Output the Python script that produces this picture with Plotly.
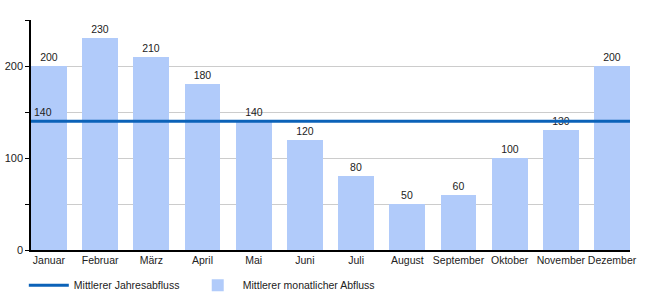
import plotly.graph_objects as go

months = ["Januar", "Februar", "März", "April", "Mai", "Juni", "Juli",
          "August", "September", "Oktober", "November", "Dezember"]
monthly = [200, 230, 210, 180, 140, 120, 80, 50, 60, 100, 130, 200]
annual = 140
y_ticks = [0, 100, 200]

bar_w = 0.7
xs = list(range(len(months)))
x_lo = -bar_w / 2
x_hi = len(months) - 1 + bar_w / 2

font = "Liberation Sans, Arial, sans-serif"

fig = go.Figure()
fig.add_trace(go.Bar(
    x=xs, y=monthly, width=bar_w, marker=dict(color="#b1cbfa", line=dict(width=0)),
    name="Mittlerer monatlicher Abfluss", legend="legend2",
    text=[str(v) for v in monthly], textposition="outside",
    textfont=dict(size=10.5, color="#222"), cliponaxis=False))
fig.add_trace(go.Scatter(
    x=[x_lo, x_hi], y=[annual, annual], mode="lines",
    line=dict(color="#0b62b8", width=3), legend="legend",
    name="Mittlerer Jahresabfluss", hoverinfo="skip"))

fig.add_annotation(x=x_lo, y=annual, text=str(annual), showarrow=False,
                   xanchor="left", yanchor="bottom", xshift=1, yshift=1,
                   font=dict(size=10.5, color="#222"))

leg_common = dict(orientation="h", y=-0.09, yanchor="top", xanchor="left",
                  font=dict(size=10.5, color="#222"), itemwidth=40,
                  bgcolor="rgba(0,0,0,0)")
fig.update_layout(
    width=650, height=300,
    margin=dict(l=31, r=20, t=20, b=50, autoexpand=False),
    paper_bgcolor="white", plot_bgcolor="white",
    font=dict(family=font, size=11, color="#222"),
    showlegend=True,
    legend=dict(x=-0.012, **leg_common),
    legend2=dict(x=0.27, **leg_common),
    bargap=0,
)
fig.update_xaxes(range=[x_lo, x_hi], tickvals=xs, ticktext=months,
                 tickangle=0, automargin=False,
                 showline=True, linecolor="black", linewidth=1.5,
                 ticks="", showgrid=False, zeroline=False,
                 tickfont=dict(size=10.5))
fig.update_yaxes(range=[0, 250], tickvals=y_ticks, showline=True,
                 automargin=False,
                 linecolor="black", linewidth=1.5, ticks="outside",
                 ticklen=4, tickcolor="black",
                 gridcolor="#cccccc", zeroline=False,
                 minor=dict(dtick=50, showgrid=True, gridcolor="#cccccc",
                            ticks="outside", ticklen=4, tickcolor="black"),
                 tickfont=dict(size=11))

fig.write_html("out.html")
